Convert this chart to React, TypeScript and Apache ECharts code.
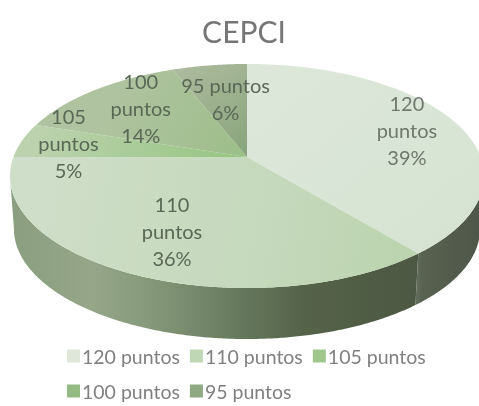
import React, { useEffect, useRef } from "react";
import * as echarts from "echarts";

const TITLE = "CEPCI";
const CATEGORIES = ["120 puntos", "110 puntos", "105 puntos", "100 puntos", "95 puntos"];
const VALUES = [39, 36, 5, 14, 6];
const LEGEND_COLORS = ["#dfe6da", "#c0d7b6", "#9fc78c", "#93ba82", "#8fa983"];
// label nudges in px from each slice's projected mid-point
const LABEL_NUDGE = [[12, -2], [3, -3], [-20, -2], [4, -1], [6, 8]];
const FONT = "Lato";

// Perspective projection of the pie plane onto the screen
const CX = 247, CY = 157, B = 233.6, A = 108.8, K = 0.1696;
const ELL_CY = 176;
const rad = (d: number) => (d * Math.PI) / 180;
function proj(theta: number, r = 1): [number, number] {
  const u = r * Math.sin(rad(theta));
  const v = -r * Math.cos(rad(theta));
  const w = 1 - K * v;
  return [CX + (B * u) / w, CY + (A * v) / w];
}
function lower([x, y]: [number, number]): [number, number] {
  return [CX + ((x - CX) * 233) / 237, ELL_CY + ((y - ELL_CY) * 110) / 112 + 53];
}
const WIDE_R = (Math.acos(-K) * 180) / Math.PI; // right-most angle
const WIDE_L = 360 - WIDE_R;

function arc(a0: number, a1: number): [number, number][] {
  const n = Math.max(2, Math.ceil(Math.abs(a1 - a0) * 2));
  const out: [number, number][] = [];
  for (let i = 0; i <= n; i++) out.push(proj(a0 + ((a1 - a0) * i) / n));
  return out;
}
const grad = (x0: number, y0: number, x1: number, y1: number, cols: [number, string][]) =>
  new echarts.graphic.LinearGradient(x0, y0, x1, y1, cols.map(([offset, color]) => ({ offset, color })), true);

const TOP_FILL = [
  () => grad(300, 70, 440, 240, [[0, "#dce7d9"], [1, "#d6e3d2"]]),
  () => grad(20, 190, 417, 270, [[0, "#cfdec9"], [0.6, "#c5d9bc"], [1, "#bbd3ae"]]),
  () => grad(40, 122, 247, 157, [[0, "#bcd2ae"], [0.5, "#a8cb97"], [1, "#95c680"]]),
  () => grad(110, 85, 247, 157, [[0, "#b0c3a1"], [0.6, "#a5c093"], [1, "#9bbf87"]]),
  () => grad(190, 65, 247, 157, [[0, "#abba9c"], [1, "#88a37b"]]),
];
const WALL_FILL: Record<number, () => any> = {
  0: () => grad(417, 0, 484, 0, [[0, "#626c5c"], [0.08, "#586250"], [1, "#4d5648"]]),
  1: () => grad(10, 0, 417, 0, [[0, "#8b9e7f"], [0.2, "#95a689"], [0.33, "#879a7b"], [0.55, "#687b5f"], [0.72, "#556349"], [1, "#4c5843"]]),
};

function cumulative(i: number) {
  const total = VALUES.reduce((a, b) => a + b, 0);
  const before = VALUES.slice(0, i).reduce((a, b) => a + b, 0);
  return [(before / total) * 360, ((before + VALUES[i]) / total) * 360];
}

const renderSlice = (i: number) => (_p: any, api: any) => {
  const start = api.value(0);
  const end = api.value(1);
  const children: any[] = [];
  const w0 = Math.max(start, WIDE_R);
  const w1 = Math.min(end, WIDE_L);
  if (w1 > w0) {
    const top = arc(w0, w1);
    const pts = top.concat(top.map(lower).reverse());
    children.push({ type: "polygon", shape: { points: pts }, style: { fill: WALL_FILL[i](), stroke: "none" } });
  }
  children.push({
    type: "polygon",
    shape: { points: [[CX, CY], ...arc(start, end)] },
    style: { fill: TOP_FILL[i](), stroke: "none" },
  });
  return { type: "group", children };
};

const renderLabel = (_p: any, api: any) => {
  const i = api.value(0);
  const [s, e] = cumulative(i);
  const [x, y] = proj((s + e) / 2, 0.7);
  const name = CATEGORIES[i];
  const first = name.length > 9 ? name.replace(" ", "\n") : name;
  return {
    type: "text",
    x: x + LABEL_NUDGE[i][0],
    y: y + LABEL_NUDGE[i][1],
    style: {
      text: `${first}\n${VALUES[i]}%`,
      fontFamily: FONT,
      fontSize: 20,
      lineHeight: 27,
      fill: i === 0 ? "#6e786c" : "#5a6856",
      align: "center",
      verticalAlign: "middle",
    },
  };
};

export default function App() {
  const ref = useRef<HTMLDivElement>(null);
  useEffect(() => {
    document.body.style.margin = "0";
    const chart = echarts.init(ref.current!, undefined, { renderer: "svg" });
    const legendBase = {
      orient: "horizontal" as const,
      icon: "rect",
      itemWidth: 13,
      itemHeight: 13,
      itemGap: 10,
      textStyle: { fontFamily: FONT, fontSize: 19.5, color: "#808080", padding: [0, 0, 0, -3] },
    };
    chart.setOption({
      animation: false,
      title: {
        text: TITLE,
        left: 239,
        top: 11,
        textAlign: "center",
        textStyle: { fontFamily: FONT, fontSize: 30, fontWeight: "normal", color: "#767676" },
      },
      legend: [
        { ...legendBase, left: 62, top: 341, data: CATEGORIES.slice(0, 3) },
        { ...legendBase, left: 62, top: 376, data: CATEGORIES.slice(3) },
      ],
      series: [
        ...CATEGORIES.map((name, i) => ({
          type: "custom",
          name,
          coordinateSystem: "none",
          renderItem: renderSlice(i),
          itemStyle: { color: LEGEND_COLORS[i] },
          data: [{ value: cumulative(i) }],
          silent: true,
          z: 2,
        })),
        {
          type: "custom",
          name: "labels",
          coordinateSystem: "none",
          renderItem: renderLabel,
          data: VALUES.map((_, i) => [i]),
          silent: true,
          z: 5,
        },
      ],
    });
    return () => chart.dispose();
  }, []);
  return <div ref={ref} style={{ width: 479, height: 406, filter: "blur(0.6px)" }} />;
}
